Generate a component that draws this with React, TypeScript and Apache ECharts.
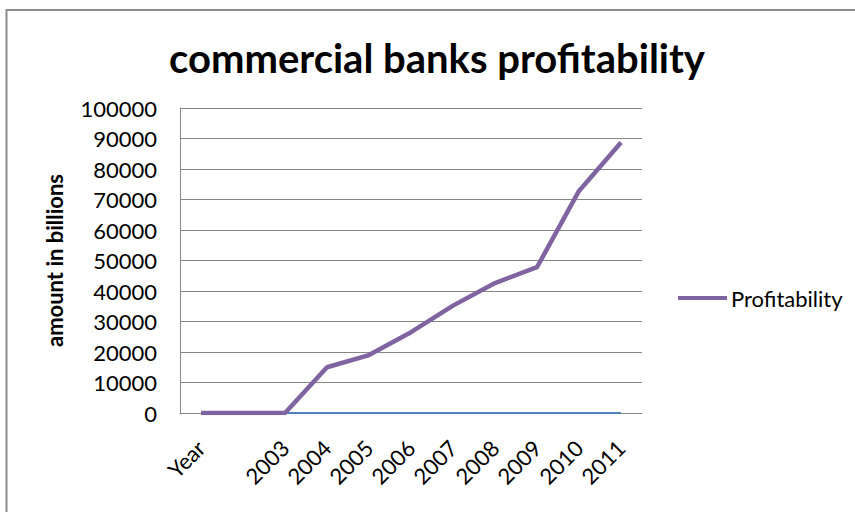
import React, { useEffect, useRef } from "react";
import * as echarts from "echarts";

const categories = ["Year", "", "2003", "2004", "2005", "2006", "2007", "2008", "2009", "2010", "2011"];
const profitability = [0, 0, 0, 15000, 19000, 26500, 35200, 42600, 47800, 72800, 88700];
const yearSeries = [null, null, 0, 0, 0, 0, 0, 0, 0, 0, 0];
const titleText = "commercial banks profitability";
const yAxisName = "amount in billions";

const FONT = "Lato, 'Open Sans', sans-serif";

export default function App() {
  const ref = useRef<HTMLDivElement>(null);
  useEffect(() => {
    if (!ref.current) return;
    const chart = echarts.init(ref.current, null, { renderer: "svg" });
    chart.setOption({
      animation: false,
      backgroundColor: "#fff",
      graphic: [
        {
          type: "rect",
          shape: { x: 6.5, y: 10, width: 900, height: 600 },
          style: { fill: "none", stroke: "#8c8c8c", lineWidth: 2 },
          silent: true,
        },
        {
          type: "text",
          x: 437,
          y: 58,
          style: {
            text: titleText,
            fill: "#000",
            font: `bold 40px ${FONT}`,
            textAlign: "center",
            textVerticalAlign: "middle",
          },
        },
      ],
      legend: {
        data: [{ name: "Profitability", icon: "rect" }],
        left: 673,
        top: 282,
        itemWidth: 49,
        itemHeight: 4,
        itemGap: 4,
        textStyle: { fontFamily: FONT, fontSize: 22, color: "#000", padding: [0, 0, 0, -1] },
      },
      grid: { left: 180, right: 213, top: 108, bottom: 99 },
      xAxis: {
        type: "category",
        data: categories,
        boundaryGap: true,
        axisLine: { lineStyle: { color: "#868686", width: 1 } },
        axisTick: { show: false },
        axisLabel: {
          rotate: 45,
          interval: 0,
          margin: 31,
          fontFamily: FONT,
          fontSize: 22,
          color: "#000",
        },
      },
      yAxis: {
        type: "value",
        min: 0,
        max: 100000,
        interval: 10000,
        name: yAxisName,
        nameLocation: "middle",
        nameRotate: 90,
        nameGap: 115,
        nameTextStyle: { fontFamily: FONT, fontWeight: "bold", fontSize: 22, color: "#000" },
        axisLine: { show: true, lineStyle: { color: "#868686", width: 1 } },
        axisTick: { show: false },
        splitLine: { lineStyle: { color: "#868686", width: 1 } },
        axisLabel: {
          margin: 23,
          fontFamily: FONT,
          fontSize: 22,
          color: "#000",
          formatter: (v: number) => String(v),
        },
      },
      series: [
        {
          name: "Year",
          type: "line",
          data: yearSeries,
          showSymbol: false,
          symbol: "none",
          lineStyle: { color: "#4F81BD", width: 2 },
          itemStyle: { color: "#4F81BD" },
        },
        {
          name: "Profitability",
          type: "line",
          data: profitability,
          showSymbol: false,
          symbol: "none",
          lineStyle: { color: "#8064A2", width: 4.5 },
          itemStyle: { color: "#8064A2" },
        },
      ],
    });
    return () => chart.dispose();
  }, []);
  return (
    <div
      ref={ref}
      style={{ position: "absolute", left: 0, top: 0, width: 855, height: 512 }}
    />
  );
}
